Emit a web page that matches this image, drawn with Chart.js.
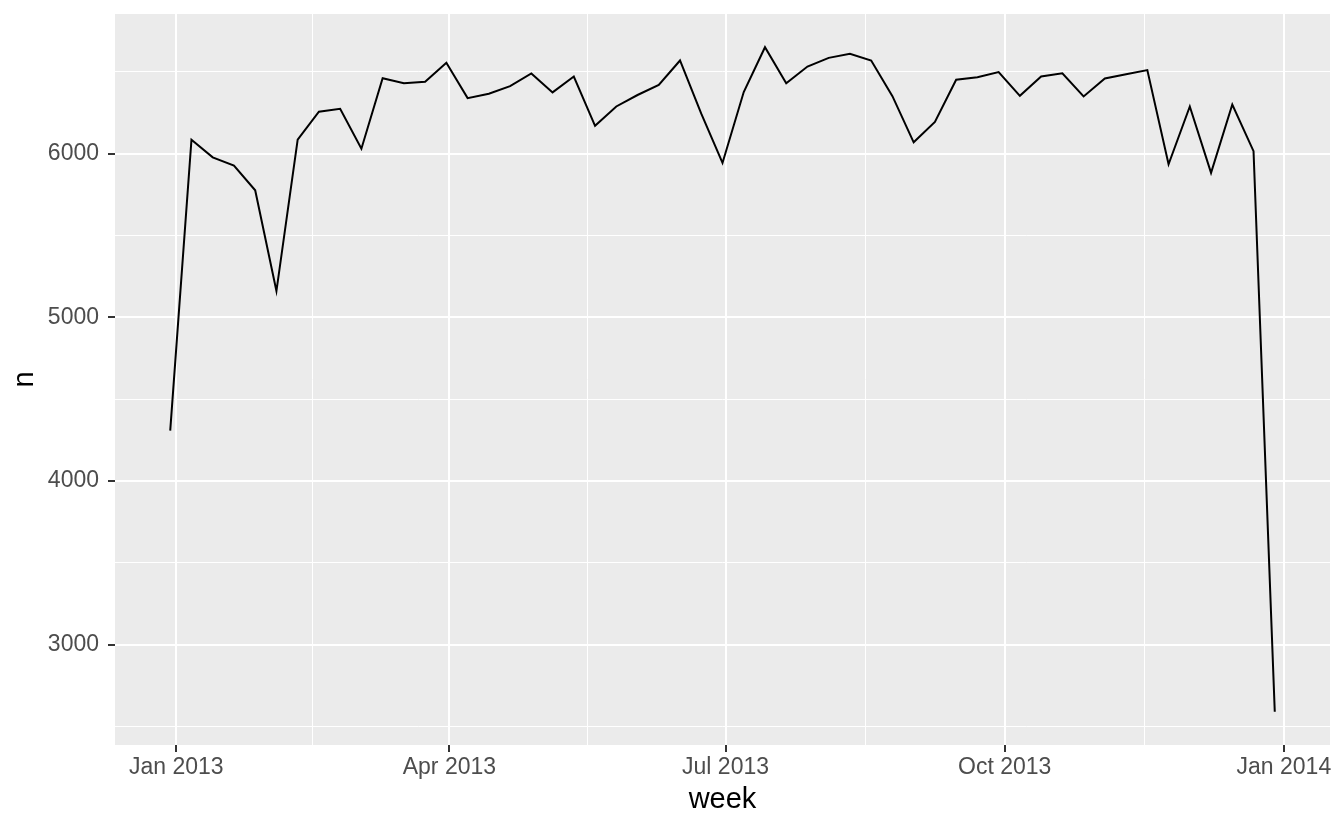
<!DOCTYPE html>
<html>
<head>
<meta charset="utf-8">
<script src="https://cdn.jsdelivr.net/npm/chart.js@4"></script>
<style>
  html, body { margin: 0; padding: 0; background: #ffffff; }
  #wrap { width: 1344px; height: 830px; position: relative; }
</style>
</head>
<body>
<div id="wrap"><canvas id="weekChart"></canvas></div>
<script>
// weekly flight counts (start of week, Sunday)
const weeks = [
  '2012-12-30', '2013-01-06', '2013-01-13', '2013-01-20', '2013-01-27',
  '2013-02-03', '2013-02-10', '2013-02-17', '2013-02-24',
  '2013-03-03', '2013-03-10', '2013-03-17', '2013-03-24', '2013-03-31',
  '2013-04-07', '2013-04-14', '2013-04-21', '2013-04-28',
  '2013-05-05', '2013-05-12', '2013-05-19', '2013-05-26',
  '2013-06-02', '2013-06-09', '2013-06-16', '2013-06-23', '2013-06-30',
  '2013-07-07', '2013-07-14', '2013-07-21', '2013-07-28',
  '2013-08-04', '2013-08-11', '2013-08-18', '2013-08-25',
  '2013-09-01', '2013-09-08', '2013-09-15', '2013-09-22', '2013-09-29',
  '2013-10-06', '2013-10-13', '2013-10-20', '2013-10-27',
  '2013-11-03', '2013-11-10', '2013-11-17', '2013-11-24',
  '2013-12-01', '2013-12-08', '2013-12-15', '2013-12-22', '2013-12-29'
];
const counts = [
  4307, 6085, 5977, 5927, 5776, 5160, 6085, 6256, 6274, 6030,
  6461, 6430, 6439, 6555, 6339, 6366, 6412, 6490, 6374, 6471,
  6170, 6288, 6358, 6419, 6569, 6244, 5943, 6376, 6650, 6430,
  6532, 6585, 6610, 6569, 6351, 6069, 6193, 6451, 6467, 6498,
  6353, 6471, 6491, 6349, 6459, 6485, 6510, 5935, 6288, 5882,
  6300, 6015, 2589
];

// axis breaks
const xBreaks = ['2013-01-01', '2013-04-01', '2013-07-01', '2013-10-01', '2014-01-01'];
const xBreakLabels = ['Jan 2013', 'Apr 2013', 'Jul 2013', 'Oct 2013', 'Jan 2014'];
const yBreaks = [3000, 4000, 5000, 6000];
const yMinorBreaks = [2500, 3500, 4500, 5500, 6500];

const toMs = s => Date.parse(s + 'T00:00:00Z');

const xMajor = xBreaks.map(toMs);
const xMinor = [];
for (let i = 0; i < xMajor.length - 1; i++) {
    xMinor.push((xMajor[i] + xMajor[i + 1]) / 2);
}

// ggplot style expansion of 5%
const xFirst = toMs(weeks[0]);
const xLast = toMs(weeks[weeks.length - 1]);
const xPad = (xLast - xFirst) * 0.05;
const yLo = Math.min(...counts);
const yHi = Math.max(...counts);
const yPad = (yHi - yLo) * 0.05;

const points = weeks.map((w, i) => ({ x: toMs(w), y: counts[i] }));

const FONT = 'Liberation Sans, Arial, Helvetica, sans-serif';

const panelBg = {
    id: 'panelBg',
    beforeDraw(chart) {
        const a = chart.chartArea;
        const ctx = chart.ctx;
        ctx.save();
        ctx.fillStyle = '#ebebeb';
        ctx.fillRect(a.left, a.top, a.right - a.left, a.bottom - a.top);
        ctx.restore();
    }
};

const isMajorX = v => xMajor.includes(v);
const isMajorY = v => yBreaks.includes(v);

new Chart(document.getElementById('weekChart'), {
    type: 'line',
    data: {
        datasets: [{
            label: 'n',
            data: points,
            borderColor: '#000000',
            borderWidth: 2,
            pointRadius: 0,
            tension: 0,
            fill: false
        }]
    },
    options: {
        responsive: true,
        maintainAspectRatio: false,
        animation: false,
        layout: { padding: { top: 14, right: 14, left: 0, bottom: 0 } },
        plugins: {
            legend: { display: false },
            tooltip: { enabled: false }
        },
        scales: {
            x: {
                type: 'linear',
                min: xFirst - xPad,
                max: xLast + xPad,
                afterBuildTicks: scale => {
                    scale.ticks = xMajor.concat(xMinor).map(v => ({ value: v }));
                },
                afterFit: scale => {
                    scale.height = 85;
                    scale.paddingLeft = 0;
                    scale.paddingRight = 0;
                },
                border: { display: false },
                grid: {
                    color: '#ffffff',
                    lineWidth: ctx => (ctx.tick && isMajorX(ctx.tick.value)) ? 2 : 1,
                    drawTicks: true,
                    tickLength: 7,
                    tickWidth: 2,
                    tickColor: ctx => (ctx.tick && isMajorX(ctx.tick.value)) ? '#333333' : 'rgba(0,0,0,0)'
                },
                ticks: {
                    autoSkip: false,
                    maxRotation: 0,
                    padding: 2,
                    color: '#4d4d4d',
                    font: { family: FONT, size: 23 },
                    callback: function(value) {
                        const i = xMajor.indexOf(value);
                        return i >= 0 ? xBreakLabels[i] : '';
                    }
                },
                title: {
                    display: true,
                    text: 'week',
                    color: '#000000',
                    font: { family: FONT, size: 29 },
                    padding: { top: 0, bottom: 13 }
                }
            },
            y: {
                type: 'linear',
                min: yLo - yPad,
                max: yHi + yPad,
                afterBuildTicks: scale => {
                    scale.ticks = yBreaks.concat(yMinorBreaks).map(v => ({ value: v }));
                },
                afterFit: scale => {
                    scale.width = 115;
                    scale.paddingTop = 0;
                    scale.paddingBottom = 0;
                },
                border: { display: false },
                grid: {
                    color: '#ffffff',
                    lineWidth: ctx => (ctx.tick && isMajorY(ctx.tick.value)) ? 2 : 1,
                    drawTicks: true,
                    tickLength: 7,
                    tickWidth: 2,
                    tickColor: ctx => (ctx.tick && isMajorY(ctx.tick.value)) ? '#333333' : 'rgba(0,0,0,0)'
                },
                ticks: {
                    autoSkip: false,
                    padding: 9,
                    color: '#4d4d4d',
                    font: { family: FONT, size: 23 },
                    callback: function(value) {
                        return isMajorY(value) ? String(value) : '';
                    }
                },
                title: {
                    display: true,
                    text: 'n',
                    color: '#000000',
                    font: { family: FONT, size: 29 },
                    padding: { top: 8, bottom: 0 }
                }
            }
        }
    },
    plugins: [panelBg]
});
</script>
</body>
</html>
